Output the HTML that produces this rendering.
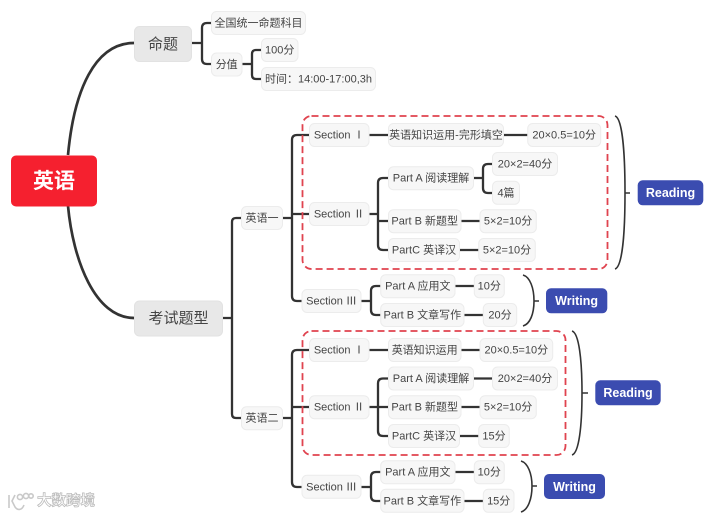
<!DOCTYPE html>
<html lang="zh">
<head>
<meta charset="utf-8">
<title>英语</title>
<style>
html,body{margin:0;padding:0;background:#fff;width:720px;height:516px;overflow:hidden}
svg{display:block;filter:blur(.3px)}
text{font-family:"Liberation Sans","Noto Sans CJK SC",sans-serif;font-size:11px;fill:#444;text-anchor:middle;dominant-baseline:central;transform:translateY(.7px)}
.c{fill:none;stroke:#333;stroke-width:2.3;stroke-linecap:round}
.r{fill:none;stroke:#333;stroke-width:2.7}
.b{fill:none;stroke:#333;stroke-width:1.6}
.d{fill:none;stroke:#e0434f;stroke-width:1.8;stroke-dasharray:7 4}
.n{fill:#f7f7f7;stroke:#ececec;stroke-width:1}
.m{fill:#e8e8e8;stroke:#e2e2e2;stroke-width:1}
.p{fill:#3b4cb0}
.l{fill:#fff;font-weight:bold;font-size:12.5px}
.big{font-size:15px}
</style>
</head>
<body>
<svg width="720" height="516" viewBox="0 0 720 516" xmlns="http://www.w3.org/2000/svg">
<!-- connectors -->
<path class="r" d="M68,155 C74,90 95,43 134,43"/>
<path class="r" d="M68,206 C73,260 95,318 134,318"/>
<path class="c" d="M192,43H202M211.5,23H207Q202,23 202,28V59Q202,64 207,64H211.5"/>
<path class="c" d="M242,64H252M261.5,50H256Q252,50 252,54V75Q252,79 256,79H261.5"/>
<path class="c" d="M222,318H232M241.5,218H236Q232,218 232,222V414Q232,418 236,418H241.5"/>
<path class="c" d="M282.5,218H292M309.5,135H297Q292,135 292,140V296Q292,301 297,301H302M292,214H309.5"/>
<path class="c" d="M282.5,418H292M309.5,350H297Q292,350 292,355V482Q292,487 297,487H302M292,407H309.5"/>
<path class="c" d="M369,135H388M503,135H527.7"/>
<path class="c" d="M369,214H378M388,178H383Q378,178 378,183V245Q378,250 383,250H388M378,221H388"/>
<path class="c" d="M473,178H483M492,164H488Q483,164 483,169V188Q483,193 488,193H492"/>
<path class="c" d="M461,221H480M460,250H479"/>
<path class="c" d="M361,301H371M381,286H376Q371,286 371,291V310Q371,315 376,315H381"/>
<path class="c" d="M455,286H474M464,315H483"/>
<path class="c" d="M369,350H388M461,350H480"/>
<path class="c" d="M369,407H388M388,378.5H383Q378,378.5 378,383.5V431Q378,436 383,436H388"/>
<path class="c" d="M473,378.5H492M461,407H480M460,436H479"/>
<path class="c" d="M361,487H371M381,472H376Q371,472 371,477V496Q371,501 376,501H381"/>
<path class="c" d="M455,472H474M464,501H483"/>
<!-- dashed boundaries -->
<rect class="d" x="302.5" y="116" width="305" height="153" rx="9"/>
<rect class="d" x="302.5" y="331" width="263" height="124" rx="9"/>
<!-- braces -->
<path class="b" d="M615,116C622,118 625,150 625,193C625,236 622,267 615,269M625,193H630"/>
<path class="b" d="M523,275C530,277 534,288 534,301C534,314 530,324 523,326M534,301H539"/>
<path class="b" d="M572,331C579,333 582,360 582,393C582,426 579,453 572,455M582,393H588"/>
<path class="b" d="M521,461C528,463 532,474 532,486C532,499 528,510 521,512M532,486H537"/>
<!-- root -->
<rect x="11" y="155.5" width="86" height="51" rx="5" fill="#f5202f"/>
<text x="54" y="181" style="fill:#fff;font-size:21px;font-weight:bold">英语</text>
<!-- main topics -->
<rect class="m" x="134.5" y="26.5" width="57" height="35" rx="5"/>
<text class="big" x="163" y="44">命题</text>
<rect class="m" x="134.5" y="301" width="88" height="35" rx="5"/>
<text class="big" x="178.5" y="318">考试题型</text>
<!-- top group -->
<rect class="n" x="211.5" y="11.5" width="94" height="23" rx="5"/><text x="258.5" y="23">全国统一命题科目</text>
<rect class="n" x="211.5" y="53" width="30.5" height="23" rx="5"/><text x="226.7" y="64.5">分值</text>
<rect class="n" x="261.5" y="38.5" width="36.5" height="23" rx="5"/><text x="279.7" y="50">100分</text>
<rect class="n" x="261.5" y="67.5" width="114" height="23" rx="5"/><text x="318.5" y="79">时间：14:00-17:00,3h</text>
<!-- 英语一 -->
<rect class="n" x="241.5" y="206.5" width="41" height="23" rx="5"/><text x="262" y="218">英语一</text>
<rect class="n" x="309.5" y="123.5" width="59.5" height="23" rx="5"/><text x="339.2" y="135">Section Ⅰ</text>
<rect class="n" x="309.5" y="202.5" width="59.5" height="23" rx="5"/><text x="339.2" y="214">Section Ⅱ</text>
<rect class="n" x="302" y="289.5" width="59" height="23" rx="5"/><text x="331.5" y="301">Section Ⅲ</text>
<rect class="n" x="388.5" y="123.5" width="115" height="23" rx="5"/><text x="446" y="135">英语知识运用-完形填空</text>
<rect class="n" x="527.7" y="123.5" width="73" height="23" rx="5"/><text x="564.2" y="135">20×0.5=10分</text>
<rect class="n" x="388.5" y="166.7" width="85" height="23" rx="5"/><text x="431" y="178">Part A 阅读理解</text>
<rect class="n" x="492.5" y="152.5" width="65" height="23" rx="5"/><text x="525" y="164">20×2=40分</text>
<rect class="n" x="492.5" y="181.3" width="27" height="23" rx="5"/><text x="506" y="193">4篇</text>
<rect class="n" x="388.5" y="209.7" width="72.5" height="23" rx="5"/><text x="424.7" y="221">Part B 新题型</text>
<rect class="n" x="480" y="209.7" width="56.3" height="23" rx="5"/><text x="508.1" y="221">5×2=10分</text>
<rect class="n" x="388.5" y="238.5" width="71" height="23" rx="5"/><text x="424" y="250">PartC 英译汉</text>
<rect class="n" x="478.7" y="238.5" width="56.6" height="23" rx="5"/><text x="507" y="250">5×2=10分</text>
<rect class="n" x="380.7" y="274.7" width="74.3" height="23" rx="5"/><text x="417.8" y="286">Part A 应用文</text>
<rect class="n" x="474.3" y="274.7" width="30" height="23" rx="5"/><text x="489.3" y="286">10分</text>
<rect class="n" x="380.7" y="303.5" width="83.3" height="23" rx="5"/><text x="422.3" y="315">Part B 文章写作</text>
<rect class="n" x="483.3" y="303.5" width="33.4" height="23" rx="5"/><text x="500" y="315">20分</text>
<!-- 英语二 -->
<rect class="n" x="241.5" y="406.7" width="41" height="23" rx="5"/><text x="262" y="418">英语二</text>
<rect class="n" x="309.5" y="338.5" width="59.5" height="23" rx="5"/><text x="339.2" y="350">Section Ⅰ</text>
<rect class="n" x="309.5" y="395.7" width="59.5" height="23" rx="5"/><text x="339.2" y="407">Section Ⅱ</text>
<rect class="n" x="302" y="475.3" width="59" height="23" rx="5"/><text x="331.5" y="487">Section Ⅲ</text>
<rect class="n" x="388.5" y="338.5" width="72.5" height="23" rx="5"/><text x="424.7" y="350">英语知识运用</text>
<rect class="n" x="480" y="338.5" width="72.7" height="23" rx="5"/><text x="516.3" y="350">20×0.5=10分</text>
<rect class="n" x="388.5" y="367" width="85" height="23" rx="5"/><text x="431" y="378.5">Part A 阅读理解</text>
<rect class="n" x="492.5" y="367" width="65" height="23" rx="5"/><text x="525" y="378.5">20×2=40分</text>
<rect class="n" x="388.5" y="395.7" width="72.5" height="23" rx="5"/><text x="424.7" y="407">Part B 新题型</text>
<rect class="n" x="480" y="395.7" width="56.3" height="23" rx="5"/><text x="508.1" y="407">5×2=10分</text>
<rect class="n" x="388.5" y="424.5" width="71" height="23" rx="5"/><text x="424" y="436">PartC 英译汉</text>
<rect class="n" x="478.7" y="424.5" width="30.6" height="23" rx="5"/><text x="494" y="436">15分</text>
<rect class="n" x="380.7" y="460.7" width="74.3" height="23" rx="5"/><text x="417.8" y="472">Part A 应用文</text>
<rect class="n" x="474.3" y="460.7" width="30" height="23" rx="5"/><text x="489.3" y="472">10分</text>
<rect class="n" x="380.7" y="489.3" width="83.3" height="23" rx="5"/><text x="422.3" y="501">Part B 文章写作</text>
<rect class="n" x="483.3" y="489.3" width="30.7" height="23" rx="5"/><text x="498.7" y="501">15分</text>
<!-- pills -->
<rect class="p" x="637.7" y="180.3" width="65.6" height="25" rx="5"/><text class="l" x="670.5" y="192.5">Reading</text>
<rect class="p" x="546" y="288.3" width="61.3" height="25" rx="5"/><text class="l" x="576.6" y="300.5">Writing</text>
<rect class="p" x="595.3" y="380.3" width="65.4" height="25" rx="5"/><text class="l" x="628" y="392.5">Reading</text>
<rect class="p" x="544" y="474" width="61" height="25" rx="5"/><text class="l" x="574.5" y="486.2">Writing</text>
<!-- watermark -->
<g fill="none" stroke="#c9c9c9" stroke-width="1.6">
<path d="M9,495V508M15,495L12,501L15,507C18,511 22,510 24,505"/>
<circle cx="20" cy="497" r="2.6"/><circle cx="26" cy="496" r="2.6"/><circle cx="31" cy="496" r="2.2"/>
</g>
<text x="66" y="501" style="font-size:14.5px;fill:#fff;stroke:#bdbdbd;stroke-width:.8;font-weight:bold">大数跨境</text>
</svg>
</body>
</html>
